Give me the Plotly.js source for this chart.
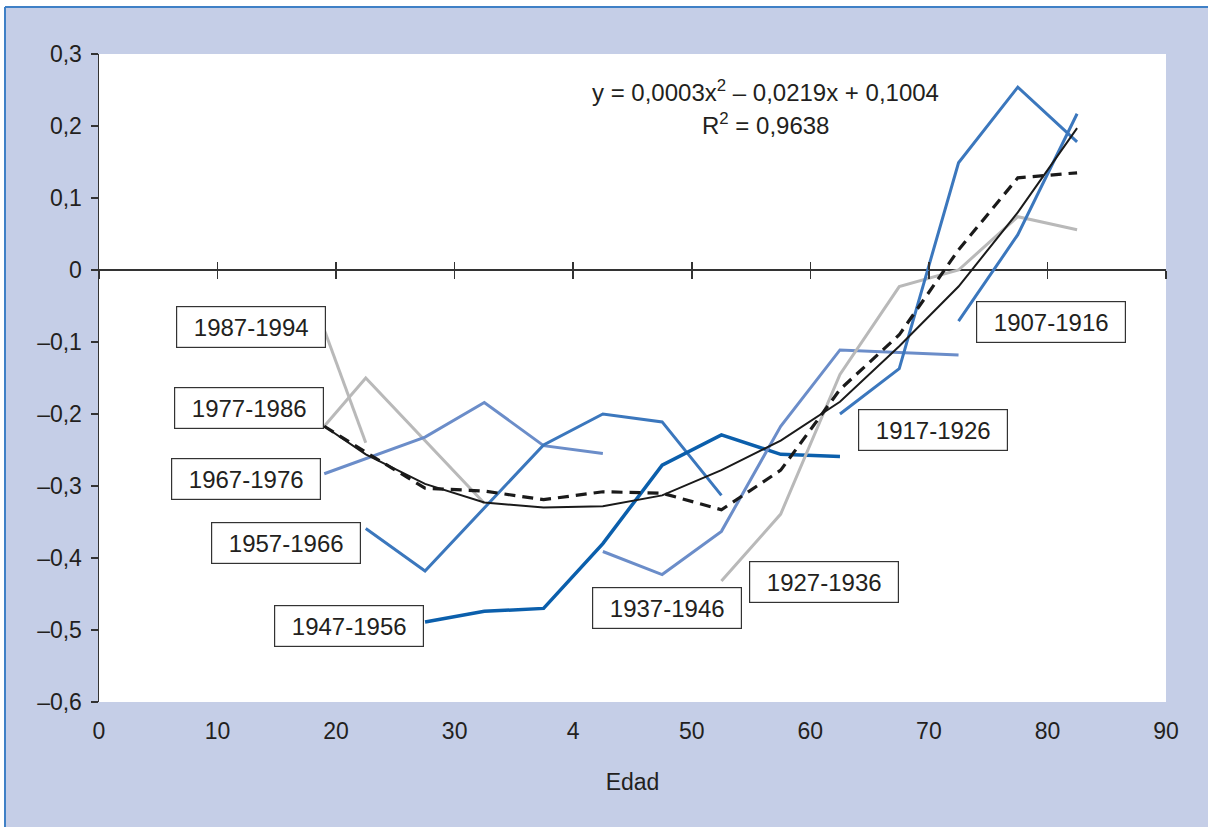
<!DOCTYPE html>
<html>
<head>
<meta charset="utf-8">
<script src="https://cdn.plot.ly/plotly-3.0.1.min.js"></script>
<style>html,body{margin:0;padding:0;background:#fff;}#chart{width:1208px;height:827px;}</style>
</head>
<body>
<div id="chart"></div>
<script>
// ---- data ----
const ages = [19, 22.5, 27.5, 32.5, 37.5, 42.5, 47.5, 52.5, 57.5, 62.5, 67.5, 72.5, 77.5, 82.5];

const x1987 = [19, 22.5];
const y1987 = [-0.083, -0.240];
const x1977 = [19, 22.5, 32.5];
const y1977 = [-0.217, -0.150, -0.324];
const x1967 = [19, 27.5, 32.5, 37.5, 42.5];
const y1967 = [-0.283, -0.232, -0.184, -0.244, -0.255];
const x1957 = [22.5, 27.5, 37.5, 42.5, 47.5, 52.5];
const y1957 = [-0.359, -0.418, -0.243, -0.200, -0.211, -0.313];
const x1947 = [27.5, 32.5, 37.5, 42.5, 47.5, 52.5, 57.5, 62.5];
const y1947 = [-0.489, -0.474, -0.470, -0.380, -0.271, -0.229, -0.256, -0.259];
const x1937 = [42.5, 47.5, 52.5, 57.5, 62.5, 67.5, 72.5];
const y1937 = [-0.391, -0.423, -0.363, -0.217, -0.111, -0.115, -0.118];
const x1927 = [52.5, 57.5, 62.5, 67.5, 72.5, 77.5, 82.5];
const y1927 = [-0.432, -0.339, -0.145, -0.023, 0.000, 0.074, 0.056];
const x1917 = [62.5, 67.5, 72.5, 77.5, 82.5];
const y1917 = [-0.200, -0.137, 0.149, 0.254, 0.178];
const x1907 = [72.5, 77.5, 82.5];
const y1907 = [-0.071, 0.049, 0.217];

const meanY  = [-0.217, -0.253, -0.303, -0.307, -0.319, -0.308, -0.310, -0.333, -0.278, -0.166, -0.090, 0.028, 0.128, 0.135];
const trendY = [-0.217, -0.256, -0.297, -0.323, -0.330, -0.328, -0.313, -0.278, -0.237, -0.183, -0.106, -0.023, 0.080, 0.197];

const cohortNames = ['1987-1994','1977-1986','1967-1976','1957-1966','1947-1956','1937-1946','1927-1936','1917-1926','1907-1916'];

const xTickVals = [0, 10, 20, 30, 40, 50, 60, 70, 80, 90];
const xTickText = ['0', '10', '20', '30', '4', '50', '60', '70', '80', '90'];
const yTickVals = [0.3, 0.2, 0.1, 0, -0.1, -0.2, -0.3, -0.4, -0.5, -0.6];
const yTickText = ['0,3', '0,2', '0,1', '0', '–0,1', '–0,2', '–0,3', '–0,4', '–0,5', '–0,6'];

const eqLine1 = 'y = 0,0003x<sup>2</sup> – 0,0219x + 0,1004';
const eqLine2 = 'R<sup>2</sup> = 0,9638';
const xTitle = 'Edad';

// ---- styles ----
const GRAY = '#b9b9b9', LBLUE = '#6b8dc9', MBLUE = '#3b77bd', DBLUE = '#0b5fac';
const TXT = '#231f20';
const FONT = 'Liberation Sans, Arial, sans-serif';

function line(x, y, color, width) {
  return {x: x, y: y, type: 'scatter', mode: 'lines', line: {color: color, width: width || 3}, hoverinfo: 'skip'};
}

const traces = [
  line(x1987, y1987, GRAY),
  line(x1977, y1977, GRAY),
  line(x1967, y1967, LBLUE),
  line(x1957, y1957, MBLUE),
  line(x1947, y1947, DBLUE, 3.5),
  line(x1937, y1937, LBLUE),
  line(x1927, y1927, GRAY),
  line(x1917, y1917, MBLUE),
  line(x1907, y1907, MBLUE),
  {x: ages, y: meanY, type: 'scatter', mode: 'lines', line: {color: '#1a1a1a', width: 3.2, dash: '11px,7px'}, hoverinfo: 'skip'},
  {x: ages, y: trendY, type: 'scatter', mode: 'lines', line: {color: '#1a1a1a', width: 2}, hoverinfo: 'skip'},
  // dummy traces so the zero-line tick axes are drawn
  {x: [null], y: [null], xaxis: 'x2', type: 'scatter', mode: 'lines', hoverinfo: 'skip'},
  {x: [null], y: [null], xaxis: 'x3', type: 'scatter', mode: 'lines', hoverinfo: 'skip'}
];

// label box positions (data coords, box centres)
const labelPos = [
  [12.84, -0.0794], [12.63, -0.192], [12.42, -0.290], [15.75, -0.379], [21.06, -0.495],
  [47.93, -0.470], [61.13, -0.434], [70.32, -0.222], [80.31, -0.072]
];

const annotations = cohortNames.map((name, i) => ({
  x: labelPos[i][0], y: labelPos[i][1], xref: 'x', yref: 'y',
  text: name, showarrow: false,
  font: {family: FONT, size: 24, color: TXT},
  bgcolor: '#ffffff', bordercolor: '#333333', borderwidth: 1.2, borderpad: 1,
  width: 146, height: 38, xanchor: 'center', yanchor: 'middle'
}));
annotations.push({x: 56.2, y: 0.249, xref: 'x', yref: 'y', text: eqLine1, showarrow: false,
  font: {family: FONT, size: 24, color: TXT}, xanchor: 'center', yanchor: 'middle'});
annotations.push({x: 56.2, y: 0.203, xref: 'x', yref: 'y', text: eqLine2, showarrow: false,
  font: {family: FONT, size: 24, color: TXT}, xanchor: 'center', yanchor: 'middle'});

const tickAxisBase = {
  matches: 'x', overlaying: 'x', anchor: 'free', position: 2/3,
  range: [0, 90], showline: false, showgrid: false, zeroline: false,
  showticklabels: false, tickmode: 'array', tickvals: xTickVals,
  ticklen: 8, tickwidth: 1.5, tickcolor: '#333333'
};

const layout = {
  width: 1208, height: 827,
  margin: {l: 99, r: 42, t: 54, b: 125},
  paper_bgcolor: '#c5cee7',
  plot_bgcolor: '#ffffff',
  showlegend: false,
  font: {family: FONT, color: TXT},
  xaxis: {
    range: [0, 90], tickmode: 'array', tickvals: xTickVals, ticktext: xTickText,
    showline: false, showgrid: false, zeroline: false, ticks: '',
    ticklabelstandoff: 13,
    tickfont: {family: FONT, size: 23, color: TXT},
    title: {text: xTitle, font: {family: FONT, size: 23, color: TXT}, standoff: 30}
  },
  xaxis2: Object.assign({}, tickAxisBase, {ticks: 'outside'}),
  xaxis3: Object.assign({}, tickAxisBase, {ticks: 'inside'}),
  yaxis: {
    range: [-0.6, 0.3], tickmode: 'array', tickvals: yTickVals, ticktext: yTickText,
    showline: true, linecolor: '#333333', linewidth: 1.5,
    ticks: 'outside', ticklen: 7, tickwidth: 1.5, tickcolor: '#333333',
    showgrid: false, zeroline: true, zerolinecolor: '#333333', zerolinewidth: 1.5,
    ticklabelstandoff: 4,
    tickfont: {family: FONT, size: 23, color: TXT}
  },
  annotations: annotations,
  shapes: [
    {type: 'rect', xref: 'paper', yref: 'paper', x0: -0.2, x1: 1.2, y0: 1.0725, y1: 1.3, fillcolor: '#ffffff', line: {width: 0}},
    {type: 'rect', xref: 'paper', yref: 'paper', x0: -0.2, x1: -0.0881, y0: -0.3, y1: 1.3, fillcolor: '#ffffff', line: {width: 0}},
    {type: 'line', xref: 'paper', yref: 'paper', x0: -0.0881, x1: 1.2, y0: 1.0725, y1: 1.0725, line: {color: '#3f80c6', width: 2}},
    {type: 'line', xref: 'paper', yref: 'paper', x0: -0.0881, x1: -0.0881, y0: -0.3, y1: 1.0725, line: {color: '#3f80c6', width: 2}}
  ]
};

Plotly.newPlot('chart', traces, layout, {displayModeBar: false, staticPlot: true});
</script>
</body>
</html>
